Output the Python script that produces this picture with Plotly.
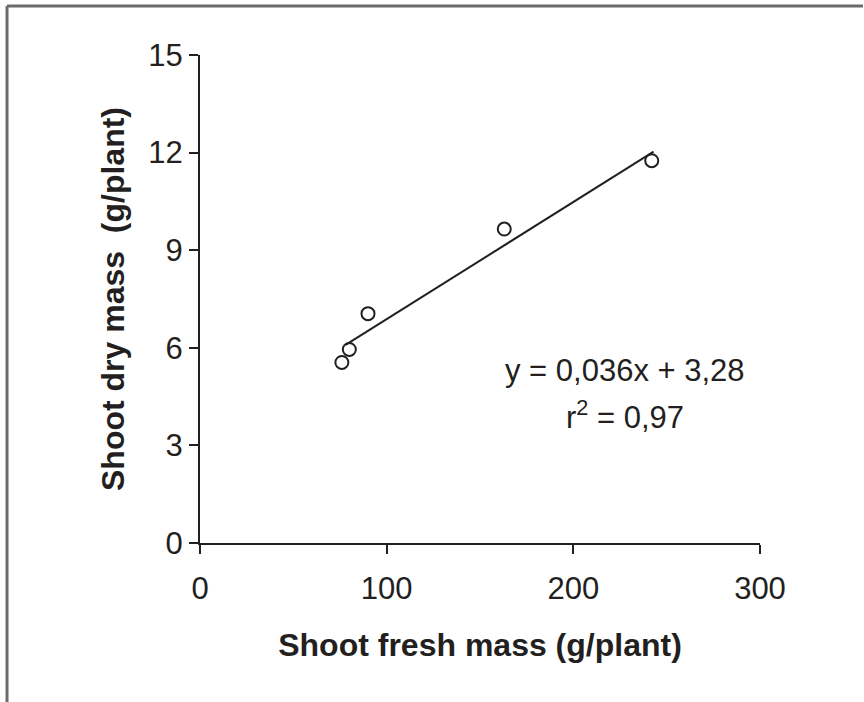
import plotly.graph_objects as go

# Data
fresh_mass = [76, 80, 90, 163, 242]
dry_mass = [5.55, 5.95, 7.05, 9.65, 11.75]
slope = 0.036
intercept = 3.28
fit_x = [78, 243]
fit_y = [slope * v + intercept for v in fit_x]
x_ticks = [0, 100, 200, 300]
y_ticks = [0, 3, 6, 9, 12, 15]

TXT = "#231f20"
FONT = "Liberation Sans, Arial, sans-serif"

fig = go.Figure()
fig.add_trace(go.Scatter(x=fit_x, y=fit_y, mode="lines",
                         line=dict(color=TXT, width=2), showlegend=False,
                         hoverinfo="skip"))
fig.add_trace(go.Scatter(x=fresh_mass, y=dry_mass, mode="markers",
                         marker=dict(symbol="circle-open", size=13,
                                     color=TXT, line=dict(width=2, color=TXT)),
                         showlegend=False))

fig.update_layout(
    width=864, height=702,
    margin=dict(l=200, r=104, t=55, b=159),
    paper_bgcolor="white", plot_bgcolor="white",
    font=dict(family=FONT, color=TXT, size=30),
    xaxis=dict(range=[0, 300], tickvals=x_ticks, showgrid=False, zeroline=False,
               showline=True, linecolor=TXT, linewidth=2,
               ticks="outside", ticklen=9, tickwidth=2, tickcolor=TXT,
               ticklabelstandoff=8,
               tickfont=dict(size=31, color=TXT),
               title=dict(text="<b>Shoot fresh mass (g/plant)</b>",
                          font=dict(size=32, color=TXT), standoff=28)),
    yaxis=dict(range=[0, 15], tickvals=y_ticks, showgrid=False, zeroline=False,
               showline=True, linecolor=TXT, linewidth=2,
               ticks="outside", ticklen=9, tickwidth=2, tickcolor=TXT,
               tickfont=dict(size=31, color=TXT),
               title=dict(text="<b>Shoot dry mass  (g/plant)</b>",
                          font=dict(size=32, color=TXT), standoff=14)),
    annotations=[
        dict(x=0.759, y=0.353, xref="paper", yref="paper",
             text="y = 0,036x + 3,28", showarrow=False,
             font=dict(size=31, color=TXT), xanchor="center", yanchor="middle"),
        dict(x=0.759, y=0.263, xref="paper", yref="paper",
             text="r<sup>2</sup> = 0,97", showarrow=False,
             font=dict(size=31, color=TXT), xanchor="center", yanchor="middle"),
    ],
    shapes=[
        dict(type="line", xref="paper", yref="paper", x0=-0.3446, x1=1.1839,
             y0=1.1004, y1=1.1004, line=dict(color="#6b6b6b", width=3)),
        dict(type="line", xref="paper", yref="paper", x0=-0.3446, x1=-0.3446,
             y0=1.1004, y1=-0.33, line=dict(color="#6b6b6b", width=3)),
    ],
)

fig.write_html("out.html", config={"displayModeBar": False},
               post_script="document.body.style.margin='0';document.body.style.overflow='hidden';")
